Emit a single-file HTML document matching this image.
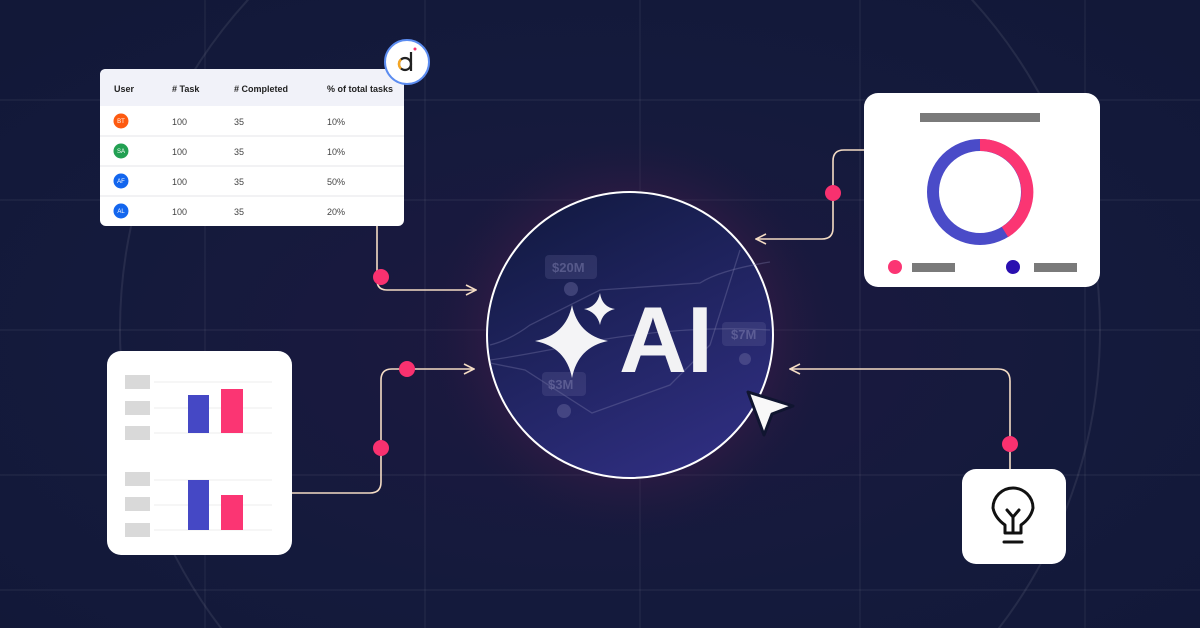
<!DOCTYPE html>
<html><head><meta charset="utf-8"><style>
html,body{margin:0;padding:0;width:1200px;height:628px;overflow:hidden;background:#131a3c;font-family:"Liberation Sans",sans-serif}
svg{display:block}
</style></head><body>
<svg width="1200" height="628" viewBox="0 0 1200 628" xmlns="http://www.w3.org/2000/svg">
<defs>
<radialGradient id="bg" cx="0.5" cy="0.55" r="0.7">
<stop offset="0" stop-color="#1d1840"/><stop offset="0.6" stop-color="#141a3c"/><stop offset="1" stop-color="#121838"/>
</radialGradient>
<radialGradient id="glow" cx="0.5" cy="0.5" r="0.5">
<stop offset="0.55" stop-color="#5a2050" stop-opacity="0.5"/><stop offset="1" stop-color="#2a1a40" stop-opacity="0"/>
</radialGradient>
<linearGradient id="orb" x1="0.2" y1="0" x2="0.7" y2="1">
<stop offset="0" stop-color="#121a42"/><stop offset="1" stop-color="#2f2e80"/>
</linearGradient>
<marker id="ar" viewBox="0 0 12 12" refX="11" refY="6" markerWidth="12" markerHeight="12" markerUnits="userSpaceOnUse" orient="auto">
<path d="M1 1 L11 6 L1 11" fill="none" stroke="#f4dcc4" stroke-width="1.6"/>
</marker>
</defs>
<rect width="1200" height="628" fill="url(#bg)"/>
<g stroke="#ffffff" stroke-opacity="0.07" stroke-width="1.2">
<line x1="0" y1="100" x2="1200" y2="100"/><line x1="0" y1="200" x2="1200" y2="200"/>
<line x1="0" y1="330" x2="1200" y2="330"/><line x1="0" y1="475" x2="1200" y2="475"/>
<line x1="0" y1="590" x2="1200" y2="590"/>
<line x1="205" y1="0" x2="205" y2="628"/><line x1="425" y1="0" x2="425" y2="628"/>
<line x1="640" y1="0" x2="640" y2="628"/><line x1="860" y1="0" x2="860" y2="628"/>
<line x1="1085" y1="0" x2="1085" y2="628"/>
</g>
<circle cx="610" cy="330" r="490" fill="none" stroke="#ffffff" stroke-opacity="0.08" stroke-width="2"/>
<circle cx="630" cy="335" r="200" fill="url(#glow)"/>
<circle cx="630" cy="335" r="143" fill="url(#orb)" stroke="#ffffff" stroke-width="2"/>
<g fill="none" stroke="#8080b0" stroke-opacity="0.35" stroke-width="1.3">
<path d="M490 345 Q510 340 530 325 L600 290 L700 283 Q720 270 770 262"/>
<path d="M490 360 Q520 356 600 340 Q690 325 770 330"/>
<path d="M490 363 L525 370 L592 413 L670 385 L710 345 L740 250"/>
</g>
<g font-size="13" font-weight="bold">
<rect x="545" y="255" width="52" height="24" rx="4" fill="#6a6aa0" fill-opacity="0.25"/><text x="552" y="272" fill="#8a8ab8" fill-opacity="0.45">$20M</text>
<rect x="542" y="372" width="44" height="24" rx="4" fill="#6a6aa0" fill-opacity="0.25"/><text x="548" y="389" fill="#8a8ab8" fill-opacity="0.45">$3M</text>
<rect x="722" y="322" width="44" height="24" rx="4" fill="#6a6aa0" fill-opacity="0.25"/><text x="731" y="339" fill="#8a8ab8" fill-opacity="0.45">$7M</text>
</g>
<circle cx="571" cy="289" r="7" fill="#6a6aa0" fill-opacity="0.45"/>
<circle cx="564" cy="411" r="7" fill="#6a6aa0" fill-opacity="0.45"/>
<circle cx="745" cy="359" r="6" fill="#6a6aa0" fill-opacity="0.45"/>
<path d="M572 305 Q578 335 608 341 Q578 347 572 378 Q566 347 535 341 Q566 335 572 305Z" fill="#f4f4f6"/>
<path d="M600 293 Q602 307 615 309 Q602 312 600 325 Q597 312 584 309 Q597 307 600 293Z" fill="#f4f4f6"/>
<text x="619" y="372" font-size="94" font-weight="bold" fill="#f2f2f4">AI</text>
<path d="M748 392 L793 406 L772 414 L764 435 Z" fill="#f8f8f8" stroke="#101530" stroke-width="3" stroke-linejoin="round"/>
<g fill="none" stroke="#f4dcc4" stroke-width="1.6">
<path d="M377 226 L377 280 Q377 290 387 290 L476 290" marker-end="url(#ar)"/>
<path d="M292 493 L370 493 Q381 493 381 482 L381 380 Q381 369 392 369 L474 369" marker-end="url(#ar)"/>
<path d="M864 150 L844 150 Q833 150 833 161 L833 228 Q833 239 822 239 L756 239" marker-end="url(#ar)"/>
<path d="M1010 469 L1010 381 Q1010 369 998 369 L790 369" marker-end="url(#ar)"/>
</g>
<g fill="#f8316f">
<circle cx="381" cy="277" r="8"/><circle cx="381" cy="448" r="8"/><circle cx="407" cy="369" r="8"/>
<circle cx="833" cy="193" r="8"/><circle cx="1010" cy="444" r="8"/>
</g>
<rect x="100" y="69" width="304" height="157" rx="6" fill="#ffffff"/>
<path d="M100 106 L100 75 Q100 69 106 69 L398 69 Q404 69 404 75 L404 106Z" fill="#f1f2f9"/>
<g stroke="#e4e4e8"><line x1="100" y1="136" x2="404" y2="136"/><line x1="100" y1="166" x2="404" y2="166"/><line x1="100" y1="196" x2="404" y2="196"/></g>
<g font-size="9" font-weight="bold" fill="#222"><text x="114" y="92">User</text><text x="172" y="92"># Task</text><text x="234" y="92"># Completed</text><text x="327" y="92">% of total tasks</text></g>
<g font-size="9" fill="#444">
<text x="172" y="125">100</text><text x="234" y="125">35</text><text x="327" y="125">10%</text>
<text x="172" y="155">100</text><text x="234" y="155">35</text><text x="327" y="155">10%</text>
<text x="172" y="185">100</text><text x="234" y="185">35</text><text x="327" y="185">50%</text>
<text x="172" y="215">100</text><text x="234" y="215">35</text><text x="327" y="215">20%</text>
</g>
<circle cx="121" cy="121" r="7.5" fill="#fd5a10"/><circle cx="121" cy="151" r="7.5" fill="#22a052"/>
<circle cx="121" cy="181" r="7.5" fill="#1366ee"/><circle cx="121" cy="211" r="7.5" fill="#1366ee"/>
<g font-size="6" fill="#fff" text-anchor="middle"><text x="121" y="123">BT</text><text x="121" y="153">SA</text><text x="121" y="183">AF</text><text x="121" y="213">AL</text></g>
<circle cx="407" cy="62" r="22" fill="#fff" stroke="#5b8cf0" stroke-width="2"/>
<circle cx="405" cy="64" r="6" fill="none" stroke="#222" stroke-width="2.2"/>
<path d="M401 59.5 A6 6 0 0 0 401 68.5" fill="none" stroke="#f5a623" stroke-width="2.4"/>
<line x1="411" y1="52" x2="411" y2="71" stroke="#222" stroke-width="2.2"/>
<circle cx="415" cy="49" r="1.5" fill="#f8316f"/>
<rect x="864" y="93" width="236" height="194" rx="14" fill="#fff"/>
<rect x="920" y="113" width="120" height="9" fill="#7a7a7a"/>
<circle cx="980" cy="192" r="47" fill="none" stroke="#4a4bc8" stroke-width="12"/>
<path d="M980 145 A47 47 0 0 1 1005 232" fill="none" stroke="#fb3573" stroke-width="12"/>
<circle cx="895" cy="267" r="7" fill="#fb3573"/><rect x="912" y="263" width="43" height="9" fill="#7a7a7a"/>
<circle cx="1013" cy="267" r="7" fill="#2a0fb0"/><rect x="1034" y="263" width="43" height="9" fill="#7a7a7a"/>
<rect x="107" y="351" width="185" height="204" rx="14" fill="#fff"/>
<g fill="#d9d9d9"><rect x="125" y="375" width="25" height="14"/><rect x="125" y="401" width="25" height="14"/><rect x="125" y="426" width="25" height="14"/>
<rect x="125" y="472" width="25" height="14"/><rect x="125" y="497" width="25" height="14"/><rect x="125" y="523" width="25" height="14"/></g>
<g stroke="#ececec"><line x1="154" y1="382" x2="272" y2="382"/><line x1="154" y1="408" x2="272" y2="408"/><line x1="154" y1="433" x2="272" y2="433"/>
<line x1="154" y1="480" x2="272" y2="480"/><line x1="154" y1="505" x2="272" y2="505"/><line x1="154" y1="530" x2="272" y2="530"/></g>
<rect x="188" y="395" width="21" height="38" fill="#4548c5"/><rect x="221" y="389" width="22" height="44" fill="#fb3573"/>
<rect x="188" y="480" width="21" height="50" fill="#4548c5"/><rect x="221" y="495" width="22" height="35" fill="#fb3573"/>
<rect x="962" y="469" width="104" height="95" rx="14" fill="#fff"/>
<g fill="none" stroke="#111" stroke-width="3" stroke-linecap="round" stroke-linejoin="round">
<path d="M1005 533 L1005 525 Q995 518 993 508 A20 20 0 1 1 1033 508 Q1031 518 1021 525 L1021 533 Z"/>
<path d="M1007 510 L1013 517 L1019 510 M1013 517 L1013 532"/>
<line x1="1004" y1="542" x2="1022" y2="542"/>
</g>
</svg>
</body></html>
